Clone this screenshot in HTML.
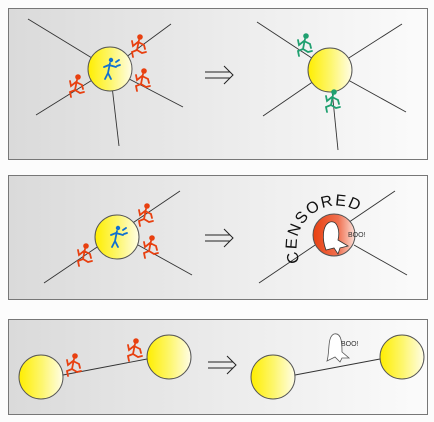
<!DOCTYPE html>
<html><head><meta charset="utf-8"><style>
html,body{margin:0;padding:0;background:#fcfcfc;}
svg{display:block;font-family:"Liberation Sans",sans-serif;}
</style></head><body>
<svg width="434" height="422" viewBox="0 0 434 422">
<defs>
<linearGradient id="bg" x1="0" x2="1" y1="0" y2="0">
<stop offset="0" stop-color="#dadada"/><stop offset="0.5" stop-color="#ebebeb"/><stop offset="1" stop-color="#fbfbfb"/></linearGradient>
<linearGradient id="sun" x1="0" x2="1"><stop offset="0" stop-color="#ffee00"/><stop offset="0.5" stop-color="#fdf66a"/><stop offset="1" stop-color="#fffde6"/></linearGradient>
<linearGradient id="red" x1="0" x2="1"><stop offset="0" stop-color="#e84010"/><stop offset="0.6" stop-color="#f07050"/><stop offset="1" stop-color="#fbe0d8"/></linearGradient>
<g id="runner" fill="none" stroke="#e84010" stroke-width="1.8" stroke-linecap="round">
<circle cx="2" cy="-10" r="2.8" fill="#e84010" stroke="none"/>
<path d="M1,-7 L-1,3 M0,-5 L-5,-1 L-6,-6 M0,-5 L6,-2 L7,2 M-1,3 L-6,5 L-5,10 M-1,3 L4,6 L8,5"/>
</g>
<g id="runnerg" fill="none" stroke="#20a070" stroke-width="1.8" stroke-linecap="round">
<circle cx="2" cy="-10" r="2.8" fill="#20a070" stroke="none"/>
<path d="M1,-7 L-1,3 M0,-5 L-5,-1 L-6,-6 M0,-5 L6,-2 L7,2 M-1,3 L-6,5 L-5,10 M-1,3 L4,6 L8,5"/>
</g>
<g id="blue" fill="none" stroke="#1070d0" stroke-width="1.8" stroke-linecap="round">
<circle cx="2" cy="-10" r="2.2" fill="#1070d0" stroke="none"/>
<path d="M1,-7 L-1,3 M0,-5 L-5,-3 M0,-5 L7,-3 M-1,3 L-4,9 M-1,3 L2,9 M7,-8 L10,-10 M8,-4 L11,-5"/>
</g>
<g id="arrow" fill="none" stroke="#222" stroke-width="1">
<path d="M-14,-3 L11,-3 M-14,3 L11,3 M5,-9 L14,0 L5,9"/>
</g>
<path id="arc" d="M300,262 A40,40 0 1,1 374,230"/>
</defs>

<g>
<rect x="8.5" y="8.5" width="419" height="151" fill="url(#bg)" stroke="#777"/>
<g stroke="#333" stroke-width="0.9">
<line x1="28" y1="19" x2="110" y2="69"/><line x1="171" y1="24" x2="110" y2="69"/>
<line x1="183" y1="107" x2="110" y2="69"/><line x1="36" y1="115" x2="110" y2="69"/><line x1="119" y1="146" x2="110" y2="69"/>
<line x1="257" y1="22" x2="330" y2="70"/><line x1="402" y1="24" x2="330" y2="70"/>
<line x1="406" y1="112" x2="330" y2="70"/><line x1="263" y1="116" x2="330" y2="70"/><line x1="338" y1="150" x2="330" y2="70"/>
</g>
<circle cx="110" cy="69" r="22" fill="url(#sun)" stroke="#555"/>
<use href="#blue" x="109" y="70"/>
<use href="#runner" x="138" y="47"/><use href="#runner" x="142" y="81"/><use href="#runner" x="76" y="87"/>
<use href="#arrow" x="219" y="75"/>
<circle cx="330" cy="70" r="22" fill="url(#sun)" stroke="#555"/>
<use href="#runnerg" x="304" y="46"/><use href="#runnerg" x="332" y="102"/>
</g>

<g>
<rect x="8.5" y="175.5" width="419" height="124" fill="url(#bg)" stroke="#777"/>
<g stroke="#333" stroke-width="0.9">
<line x1="44" y1="283" x2="180" y2="191"/><line x1="138" y1="245" x2="192" y2="275"/>
<line x1="259" y1="283" x2="395" y2="191"/><line x1="354" y1="245" x2="407" y2="275"/>
</g>
<circle cx="117" cy="237" r="22" fill="url(#sun)" stroke="#555"/>
<use href="#blue" x="116" y="238"/>
<use href="#runner" x="145" y="216"/><use href="#runner" x="150" y="248"/><use href="#runner" x="84" y="256"/>
<use href="#arrow" x="219" y="238"/>
<circle cx="334" cy="235" r="21" fill="url(#red)" stroke="#555"/>
<path d="M326,250 C322,240 322,225 330,222 C338,220 340,232 338,240 L348,246 L340,248 L338,254 L334,248 Z" fill="#fff" stroke="#333" stroke-width="0.8"/>
<text x="348" y="237" font-size="7" fill="#333">BOO!</text>
<text font-size="16" fill="#111" letter-spacing="1.5"><textPath href="#arc">CENSORED</textPath></text>
</g>

<g>
<rect x="8.5" y="319.5" width="419" height="95" fill="url(#bg)" stroke="#777"/>
<g stroke="#333" stroke-width="0.9">
<line x1="63" y1="375" x2="147" y2="359"/><line x1="295" y1="375" x2="380" y2="359"/>
</g>
<circle cx="41" cy="377" r="22" fill="url(#sun)" stroke="#555"/>
<circle cx="169" cy="357" r="22" fill="url(#sun)" stroke="#555"/>
<use href="#runner" x="73" y="366"/><use href="#runner" x="134" y="351"/>
<use href="#arrow" x="222" y="365"/>
<circle cx="273" cy="377" r="22" fill="url(#sun)" stroke="#555"/>
<circle cx="402" cy="357" r="22" fill="url(#sun)" stroke="#555"/>
<path d="M327,361 C330,352 327,337 334,334 C342,332 342,345 342,352 L349,358 L342,358 L340,362 L335,357 Z" fill="#fff" stroke="#555" stroke-width="0.8"/>
<text x="341" y="346" font-size="7" fill="#333">BOO!</text>
</g>
</svg>
</body></html>
